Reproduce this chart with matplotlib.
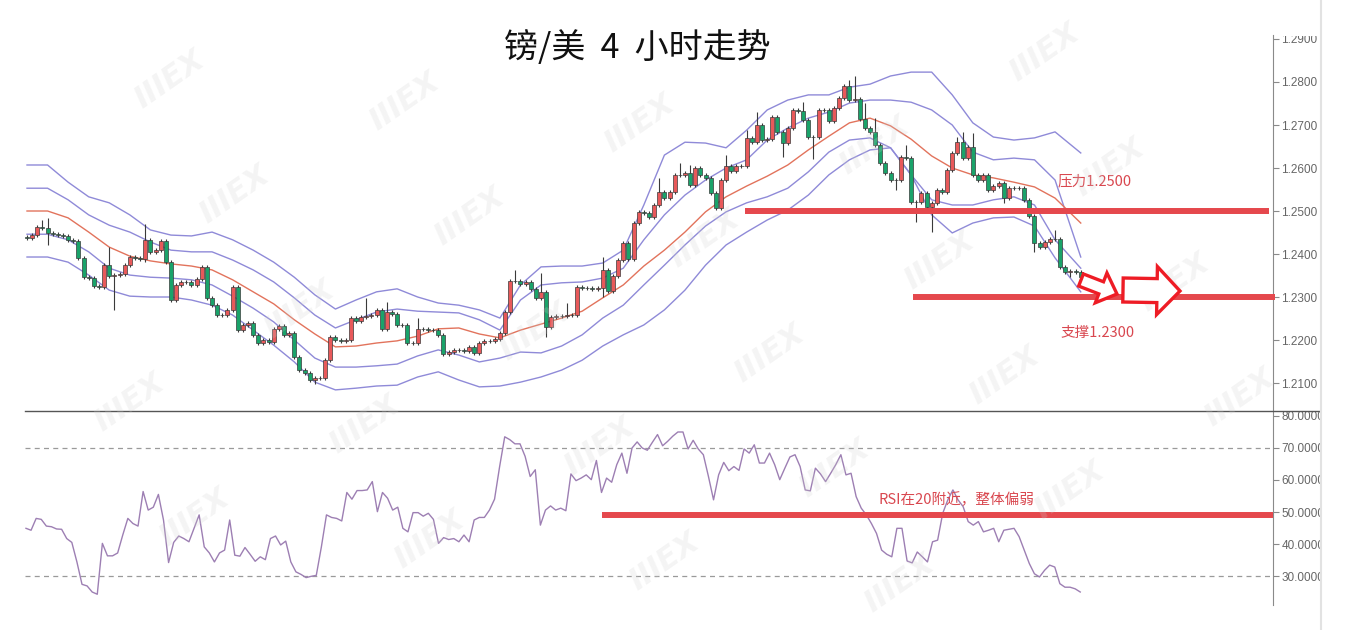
import numpy as np
import matplotlib.pyplot as plt
import matplotlib.patches as mpatches
from matplotlib.lines import Line2D

plt.rcParams['font.family'] = ['Noto Sans CJK SC', 'DejaVu Sans']

# closes of the 4h candles (open = previous close)
first_open = 1.2440
closes = [
    1.2437, 1.2444, 1.2463, 1.2460, 1.2449, 1.2447, 1.2444, 1.2442, 1.2433, 1.2430,
    1.2391, 1.2347, 1.2344, 1.2326, 1.2323, 1.2374, 1.2349, 1.2351, 1.2353, 1.2374,
    1.2393, 1.2391, 1.2388, 1.2433, 1.2405, 1.2409, 1.2430, 1.2381, 1.2293, 1.2328,
    1.2335, 1.2335, 1.2328, 1.2342, 1.2370, 1.2298, 1.2281, 1.2258, 1.2258, 1.2270,
    1.2323, 1.2223, 1.2235, 1.2240, 1.2212, 1.2193, 1.2200, 1.2195, 1.2226, 1.2233,
    1.2212, 1.2216, 1.2160, 1.2130, 1.2123, 1.2107, 1.2112, 1.2112, 1.2153, 1.2207,
    1.2200, 1.2198, 1.2200, 1.2251, 1.2244, 1.2253, 1.2256, 1.2258, 1.2270, 1.2226,
    1.2265, 1.2260, 1.2235, 1.2235, 1.2193, 1.2193, 1.2226, 1.2226, 1.2223, 1.2223,
    1.2212, 1.2167, 1.2172, 1.2177, 1.2177, 1.2174, 1.2184, 1.2170, 1.2193, 1.2198,
    1.2198, 1.2202, 1.2216, 1.2265, 1.2337, 1.2337, 1.2330, 1.2335, 1.2319, 1.2298,
    1.2312, 1.2230, 1.2253, 1.2256, 1.2256, 1.2258, 1.2258, 1.2323, 1.2321, 1.2321,
    1.2319, 1.2321, 1.2363, 1.2314, 1.2349, 1.2386, 1.2426, 1.2388, 1.2472, 1.2498,
    1.2495, 1.2486, 1.2514, 1.2544, 1.2530, 1.2544, 1.2584, 1.2584, 1.2588, 1.2560,
    1.2600, 1.2584, 1.2577, 1.2542, 1.2507, 1.2572, 1.2605, 1.2593, 1.2605, 1.2605,
    1.2670, 1.2660, 1.2700, 1.2665, 1.2667, 1.2719, 1.2684, 1.2658, 1.2693, 1.2735,
    1.2733, 1.2712, 1.2672, 1.2672, 1.2735, 1.2735, 1.2709, 1.2740, 1.2763, 1.2791,
    1.2758, 1.2760, 1.2714, 1.2693, 1.2684, 1.2653, 1.2612, 1.2588, 1.2572, 1.2572,
    1.2626, 1.2623, 1.2521, 1.2521, 1.2542, 1.2509, 1.2519, 1.2549, 1.2544, 1.2595,
    1.2635, 1.2660, 1.2623, 1.2649, 1.2584, 1.2572, 1.2584, 1.2549, 1.2558, 1.2565,
    1.2530, 1.2553, 1.2553, 1.2553, 1.2526, 1.2488, 1.2426, 1.2416, 1.2428, 1.2435,
    1.2435, 1.2370, 1.2358, 1.2360, 1.2358, 1.2347,
]

# longer wicks that stand out (candle index: price)
wick_highs = {3: 1.2479, 4: 1.2484, 16: 1.2416, 23: 1.2470, 66: 1.2298, 70: 1.2288,
              76: 1.2251, 95: 1.2363, 100: 1.2356, 105: 1.2286, 112: 1.2393,
              123: 1.2577, 127: 1.2612, 129: 1.2607, 136: 1.2630, 140: 1.2688,
              142: 1.2730, 151: 1.2753, 160: 1.2805, 161: 1.2814, 163: 1.2751,
              165: 1.2716, 171: 1.2653, 181: 1.2672, 182: 1.2684, 184: 1.2681,
              200: 1.2456}
wick_lows = {4: 1.2421, 17: 1.2270, 23: 1.2381, 56: 1.2098, 101: 1.2207,
             112: 1.2300, 147: 1.2626, 153: 1.2621, 169: 1.2549, 173: 1.2475,
             176: 1.2451, 190: 1.2519, 196: 1.2405, 203: 1.2346}

# band lines, read every 4 candles (last one at candle 205)
band_idx = list(range(0, 201, 4)) + [205]
band_u2 = [1.2607, 1.2607, 1.2567, 1.2533, 1.2519, 1.2491, 1.2456, 1.2444, 1.2442, 1.2451,
           1.2433, 1.2409, 1.2381, 1.2346, 1.2305, 1.2272, 1.2293, 1.2312, 1.2319, 1.2300,
           1.2286, 1.2281, 1.2270, 1.2251, 1.2328, 1.2370, 1.2372, 1.2372, 1.2379, 1.2409,
           1.2514, 1.2630, 1.2660, 1.2658, 1.2647, 1.2688, 1.2735, 1.2758, 1.2770, 1.2770,
           1.2788, 1.2795, 1.2814, 1.2823, 1.2823, 1.2770, 1.2705, 1.2672, 1.2665, 1.2670,
           1.2684, 1.2635]
band_u1 = [1.2553, 1.2553, 1.2526, 1.2491, 1.2467, 1.2451, 1.2428, 1.2409, 1.2405, 1.2405,
           1.2386, 1.2363, 1.2335, 1.2298, 1.2258, 1.2228, 1.2247, 1.2265, 1.2272, 1.2267,
           1.2265, 1.2263, 1.2247, 1.2223, 1.2293, 1.2328, 1.2333, 1.2335, 1.2344, 1.2367,
           1.2433, 1.2491, 1.2537, 1.2572, 1.2600, 1.2619, 1.2665, 1.2693, 1.2716, 1.2730,
           1.2751, 1.2758, 1.2758, 1.2753, 1.2735, 1.2700, 1.2637, 1.2619, 1.2623, 1.2619,
           1.2572, 1.2393]
band_mid = [1.2500, 1.2500, 1.2484, 1.2451, 1.2416, 1.2395, 1.2384, 1.2377, 1.2372, 1.2363,
            1.2340, 1.2312, 1.2284, 1.2247, 1.2214, 1.2184, 1.2186, 1.2193, 1.2198, 1.2209,
            1.2226, 1.2228, 1.2214, 1.2205, 1.2223, 1.2237, 1.2251, 1.2267, 1.2298, 1.2328,
            1.2372, 1.2409, 1.2451, 1.2498, 1.2533, 1.2558, 1.2581, 1.2607, 1.2642, 1.2674,
            1.2705, 1.2716, 1.2698, 1.2667, 1.2628, 1.2600, 1.2584, 1.2577, 1.2567, 1.2556,
            1.2530, 1.2472]
band_l1 = [1.2446, 1.2446, 1.2433, 1.2405, 1.2367, 1.2351, 1.2346, 1.2344, 1.2340, 1.2328,
           1.2302, 1.2274, 1.2242, 1.2200, 1.2158, 1.2137, 1.2137, 1.2140, 1.2144, 1.2163,
           1.2177, 1.2165, 1.2149, 1.2158, 1.2172, 1.2170, 1.2186, 1.2212, 1.2251, 1.2281,
           1.2328, 1.2374, 1.2421, 1.2465, 1.2498, 1.2519, 1.2533, 1.2553, 1.2591, 1.2637,
           1.2665, 1.2670, 1.2647, 1.2584, 1.2526, 1.2514, 1.2514, 1.2526, 1.2533, 1.2514,
           1.2433, 1.2367]
band_l2 = [1.2393, 1.2393, 1.2381, 1.2351, 1.2316, 1.2302, 1.2300, 1.2300, 1.2293, 1.2281,
           1.2258, 1.2223, 1.2188, 1.2149, 1.2102, 1.2084, 1.2088, 1.2093, 1.2095, 1.2114,
           1.2126, 1.2107, 1.2091, 1.2093, 1.2102, 1.2114, 1.2130, 1.2153, 1.2186, 1.2212,
           1.2235, 1.2270, 1.2316, 1.2374, 1.2421, 1.2451, 1.2479, 1.2502, 1.2537, 1.2584,
           1.2619, 1.2642, 1.2647, 1.2584, 1.2491, 1.2449, 1.2472, 1.2484, 1.2486, 1.2465,
           1.2391, 1.2312]

rsi = [
    44.9, 44.3, 48.0, 47.7, 45.6, 45.4, 44.7, 44.6, 41.7, 40.5, 34.4, 27.4, 26.9, 25.0, 24.3,
    40.2, 36.3, 36.3, 37.2, 42.8, 48.0, 46.4, 45.6, 56.4, 50.6, 51.5, 55.5, 47.5, 34.2, 40.5,
    42.5, 41.7, 40.7, 44.9, 49.1, 39.1, 37.2, 34.4, 37.2, 38.1, 47.5, 36.5, 36.2, 38.9, 36.8,
    34.6, 36.0, 35.1, 41.7, 42.5, 39.7, 40.9, 34.4, 31.3, 30.5, 29.5, 29.9, 30.2, 39.1, 49.1,
    48.3, 48.0, 47.2, 56.1, 54.0, 56.7, 56.7, 56.9, 59.5, 50.1, 56.1, 54.3, 50.6, 51.5, 44.9,
    43.8, 49.8, 49.8, 48.7, 49.6, 47.7, 40.2, 42.0, 41.4, 41.7, 40.7, 42.8, 40.7, 47.5, 48.3,
    48.3, 50.6, 54.0, 64.2, 73.5, 72.6, 71.3, 71.3, 67.4, 61.1, 63.2, 45.9, 50.6, 51.9, 50.6,
    51.2, 50.4, 61.9, 59.8, 60.6, 61.6, 60.1, 66.1, 56.1, 60.6, 59.3, 64.8, 68.4, 62.1, 70.0,
    71.9, 70.0, 69.3, 71.8, 74.2, 70.7, 72.1, 73.7, 75.0, 75.0, 69.7, 72.4, 69.7, 67.9, 61.1,
    53.8, 61.6, 65.5, 62.9, 64.2, 63.0, 69.7, 68.4, 71.0, 65.3, 65.3, 68.4, 64.8, 60.1, 63.7,
    67.2, 67.9, 64.2, 56.9, 56.6, 63.7, 61.9, 59.5, 62.1, 64.8, 67.9, 61.6, 62.1, 54.8, 51.2,
    49.1, 46.4, 43.3, 38.1, 36.8, 36.0, 44.9, 44.9, 34.7, 34.1, 37.5, 36.0, 34.4, 40.7, 41.2,
    49.6, 53.8, 56.9, 53.8, 51.7, 47.0, 45.9, 47.0, 43.8, 44.3, 44.9, 40.7, 44.3, 44.6, 44.9,
    42.3, 38.1, 33.9, 30.7, 29.7, 31.8, 33.4, 32.8, 27.6, 26.5, 26.5, 26.0, 25.0,
]

resistance = 1.2500
support = 1.2300
rsi_mark = 49.0
price_ticks = [1.21, 1.22, 1.23, 1.24, 1.25, 1.26, 1.27, 1.28, 1.29]
rsi_ticks = [30, 40, 50, 60, 70, 80]

W, H = 1346, 630
fig = plt.figure(figsize=(W / 100, H / 100), dpi=100)
fig.patch.set_facecolor('white')


def fx(px):
    return px / W


def fy(py):
    return 1 - py / H


ax = fig.add_axes([fx(25), fy(411), fx(1273 - 25), (411 - 35) / H])
ax2 = fig.add_axes([fx(25), fy(605), fx(1273 - 25), (605 - 411) / H])

RED = '#e5484d'
RED_C = '#e8595a'
GREEN_C = '#1aa36a'
BAND = '#8f8ad8'
MID = '#e2735c'

n = len(closes)
opens = [first_open] + closes[:-1]
for i in range(n):
    o, c = opens[i], closes[i]
    top, bot = max(o, c), min(o, c)
    hi = max(wick_highs.get(i, top + 0.0004), top)
    lo = min(wick_lows.get(i, bot - 0.0004), bot)
    ax.vlines(i, lo, hi, color='#3a3a3a', lw=0.8, zorder=3)
    col = RED_C if c >= o else GREEN_C
    h = max(top - bot, 0.00005)
    ax.add_patch(mpatches.Rectangle((i - 0.39, bot), 0.78, h, facecolor=col,
                                    edgecolor='#3a3a3a', lw=0.5, zorder=4))

ax.plot(band_idx, band_u2, color=BAND, lw=1.0, zorder=2)
ax.plot(band_idx, band_u1, color=BAND, lw=1.0, zorder=2)
ax.plot(band_idx, band_l1, color=BAND, lw=1.0, zorder=2)
ax.plot(band_idx, band_l2, color=BAND, lw=1.0, zorder=2)
ax.plot(band_idx, band_mid, color=MID, lw=1.0, zorder=2)

# x positions in candle units: pixel 25 -> -0.39, pixel 1273 -> 242.4
xl = (-0.39, 242.4)
ax.set_xlim(*xl)
ax.set_ylim(1.20349, 1.29093)
ax2.set_xlim(*xl)
ax2.set_ylim(20.94, 81.56)

ax.hlines(resistance, 139.7, 241.7, color=RED, lw=4.3, zorder=5)
ax.hlines(support, 172.4, 242.8, color=RED, lw=4.3, zorder=5, clip_on=False)
ax.text(200.4, 1.2570, '压力1.2500', color='#d9474f', fontsize=10.5, va='center')
ax.text(201.0, 1.2216, '支撑1.2300', color='#d9474f', fontsize=10.5, va='center')

rsi_x = np.linspace(-0.2, 204.9, len(rsi))
ax2.plot(rsi_x, rsi, color='#9d7fb3', lw=1.0, zorder=3)
for lv in (70, 30):
    ax2.axhline(lv, color='#9a9a9a', lw=0.9, dashes=(4, 3.4), zorder=1)
ax2.hlines(rsi_mark, 111.9, 242.4, color=RED, lw=4.3, zorder=4)
ax2.text(165.6, 53.7, 'RSI在20附近，整体偏弱', color='#d9474f', fontsize=10.5, va='center')

for a, ticks in ((ax, price_ticks), (ax2, rsi_ticks)):
    for s in ('left', 'top', 'bottom'):
        a.spines[s].set_visible(False)
    a.spines['right'].set_color('#8a8a8a')
    a.set_xticks([])
    a.yaxis.tick_right()
    a.set_yticks(ticks)
    a.set_yticklabels(['{:.4f}'.format(t) for t in ticks])
    a.tick_params(axis='y', colors='#8a8a8a', labelcolor='#666666', length=4,
                  labelsize=8.5, pad=2, labelfontfamily='Liberation Sans')
    a.patch.set_alpha(0)

# separator between the panels
fig.add_artist(Line2D([fx(25), fx(1320)], [fy(411), fy(411)], color='#555555', lw=1.0))

# faint watermarks on a slanted grid
for m in range(-1, 6):
    for k in range(-1, 6):
        px = 170 + 235 * m + 65 * k
        py = 80 + 22 * m + 115 * k
        if 70 < px < 1250 and 50 < py < 590:
            fig.text(fx(px), fy(py), 'IIIEX', fontsize=22, fontweight='bold',
                     fontstyle='italic', color='#d0d0d0', alpha=0.22, rotation=35,
                     ha='center', va='center', family='DejaVu Sans', zorder=6)


# hollow arrows
def arrow_poly(x0, y0, x1, y1, bw, hw, hl):
    dx, dy = x1 - x0, y1 - y0
    L = np.hypot(dx, dy)
    ux, uy = dx / L, dy / L
    nx, ny = -uy, ux
    bx, by = x1 - ux * hl, y1 - uy * hl
    pts = [(x0 + nx * bw / 2, y0 + ny * bw / 2), (bx + nx * bw / 2, by + ny * bw / 2),
           (bx + nx * hw / 2, by + ny * hw / 2), (x1, y1),
           (bx - nx * hw / 2, by - ny * hw / 2), (bx - nx * bw / 2, by - ny * bw / 2),
           (x0 - nx * bw / 2, y0 - ny * bw / 2)]
    return [(fx(p[0]), fy(p[1])) for p in pts]


for spec in ((1081, 280, 1117, 294, 13, 32, 17), (1123, 290, 1180, 291, 24, 48, 23)):
    fig.add_artist(mpatches.Polygon(arrow_poly(*spec), closed=True, facecolor='white',
                                    edgecolor='#ee1c25', lw=2.4, zorder=7,
                                    transform=fig.transFigure))

# right edge of the screenshot
fig.add_artist(mpatches.Rectangle((fx(1320), 0), 1 - fx(1320), 1, facecolor='white',
                                  edgecolor='none', transform=fig.transFigure, zorder=8))
fig.add_artist(mpatches.Rectangle((fx(1276), fy(36)), 1 - fx(1276), 36 / H, facecolor='white',
                                  edgecolor='none', transform=fig.transFigure, zorder=8))
fig.add_artist(Line2D([fx(1321), fx(1321)], [0, 1], color='#e2e2e2', lw=1.5, zorder=9))

fig.text(fx(637), fy(48), '镑/美  4  小时走势', fontsize=24.5, ha='center', va='center',
         color='#111111')

fig.savefig('out.png', dpi=100)
